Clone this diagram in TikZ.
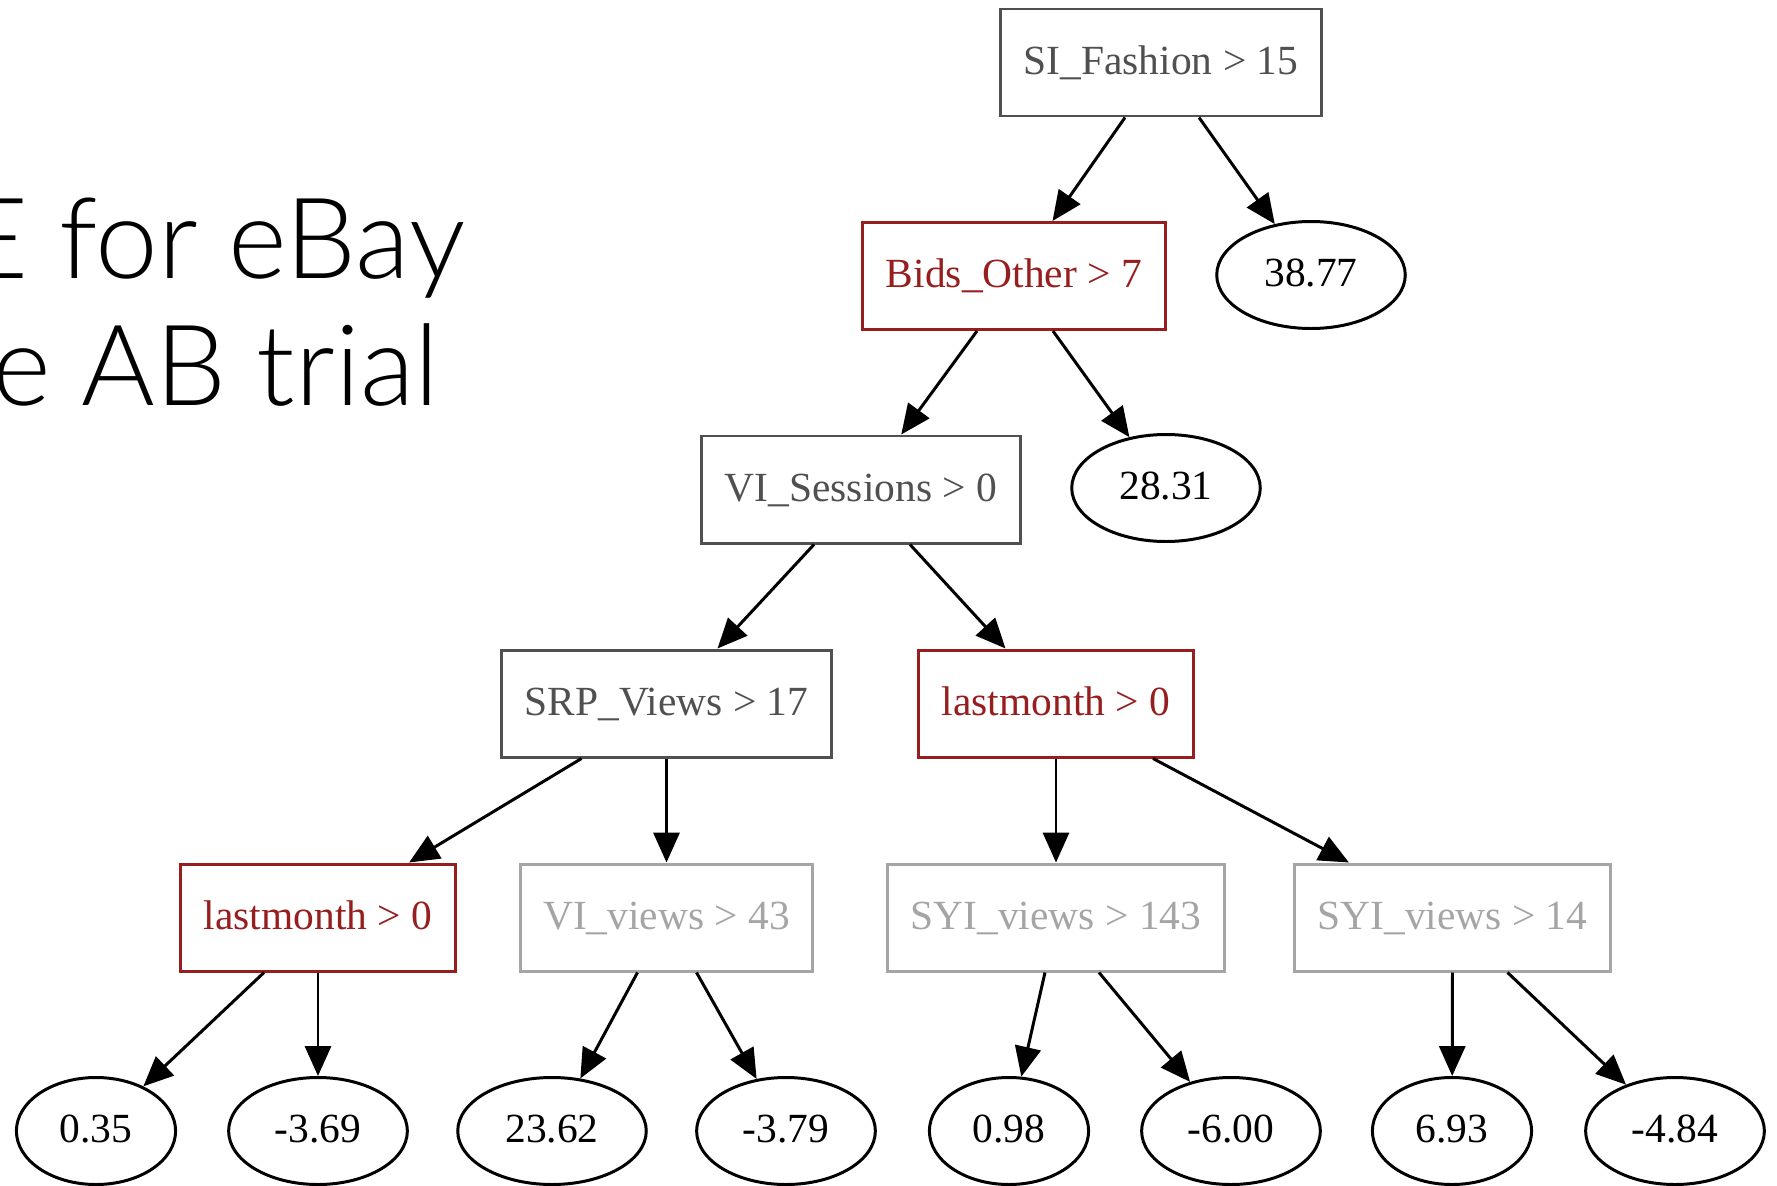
\documentclass[tikz,border=0pt]{standalone}
\usepackage{fontspec}
\setmainfont{Liberation Serif}
\newfontfamily\titlefont{Lato Light}
\usetikzlibrary{arrows.meta,shapes.geometric}
\definecolor{splitgray}{RGB}{80,80,80}
\definecolor{splitred}{RGB}{150,30,30}
\definecolor{splitlight}{RGB}{165,165,165}
\begin{document}
\begin{tikzpicture}[
    every node/.style={font=\fontsize{11.8}{14}\selectfont},
    split/.style={draw, rectangle, line width=0.85pt, inner xsep=0.23cm, inner ysep=0pt,
      minimum height=1.07cm, text height=8.85pt, text depth=2.25pt},
    leaf/.style={draw, ellipse, line width=0.85pt, inner xsep=0.2cm, inner ysep=0pt,
      minimum height=1.07cm, text height=8.85pt, text depth=2.25pt},
    edge/.style={line width=0.85pt, -{Triangle[length=8.5pt,width=7.4pt]}},
    titletext/.style={font=\titlefont\fontsize{32}{38}\selectfont, anchor=base east, inner sep=0pt}
  ]
        \useasboundingbox (0,0) rectangle (17.77,-11.86);

        % title, cut off at the left edge
        \node[titletext] (titleA) at (4.66,-2.78) {E for eBay};
        \node[titletext] (titleB) at (4.4,-4.05) {e AB trial};

        % splits
        \node[split, draw=splitgray, text=splitgray] (SIF) at (11.61,-0.625) {SI\_Fashion > 15};
        \node[split, draw=splitred, text=splitred] (BidsO) at (10.14,-2.76) {Bids\_Other > 7};
        \node[split, draw=splitgray, text=splitgray] (VIS) at (8.61,-4.895) {VI\_Sessions > 0};
        \node[split, draw=splitgray, text=splitgray] (SRP) at (6.665,-7.035) {SRP\_Views > 17};
        \node[split, draw=splitred, text=splitred] (LMa) at (10.56,-7.035) {lastmonth > 0};
        \node[split, draw=splitred, text=splitred] (LMb) at (3.18,-9.175) {lastmonth > 0};
        \node[split, draw=splitlight, text=splitlight] (VIv) at (6.665,-9.175) {VI\_views > 43};
        \node[split, draw=splitlight, text=splitlight] (SYIa) at (10.56,-9.175) {SYI\_views > 143};
        \node[split, draw=splitlight, text=splitlight] (SYIb) at (14.525,-9.175) {SYI\_views > 14};

        % leaves
        \node[leaf] (L3877) at (13.11,-2.75) {38.77};
        \node[leaf] (L2831) at (11.66,-4.88) {28.31};
        \node[leaf] (L035) at (0.96,-11.31) {0.35};
        \node[leaf] (L369) at (3.18,-11.31) {-3.69};
        \node[leaf] (L2362) at (5.52,-11.31) {23.62};
        \node[leaf] (L379) at (7.86,-11.31) {-3.79};
        \node[leaf] (L098) at (10.09,-11.31) {0.98};
        \node[leaf] (L600) at (12.31,-11.31) {-6.00};
        \node[leaf] (L693) at (14.52,-11.31) {6.93};
        \node[leaf] (L484) at (16.75,-11.31) {-4.84};

        % edges
        \draw[edge] ([xshift=-0.36cm]SIF.south) -- (BidsO);
        \draw[edge] ([xshift=0.38cm]SIF.south) -- (L3877);
        \draw[edge] ([xshift=-0.37cm]BidsO.south) -- (VIS);
        \draw[edge] ([xshift=0.39cm]BidsO.south) -- (L2831);
        \draw[edge] ([xshift=-0.47cm]VIS.south) -- (SRP);
        \draw[edge] ([xshift=0.49cm]VIS.south) -- (LMa);
        \draw[edge] ([xshift=-0.85cm]SRP.south) -- (LMb);
        \draw[edge] (SRP.south) -- (VIv);
        \draw[edge] (LMa.south) -- (SYIa);
        \draw[edge] ([xshift=0.97cm]LMa.south) -- (SYIb);
        \draw[edge] ([xshift=-0.54cm]LMb.south) -- (L035);
        \draw[edge] (LMb.south) -- (L369);
        \draw[edge] ([xshift=-0.29cm]VIv.south) -- (L2362);
        \draw[edge] ([xshift=0.3cm]VIv.south) -- (L379);
        \draw[edge] ([xshift=-0.11cm]SYIa.south) -- (L098);
        \draw[edge] ([xshift=0.43cm]SYIa.south) -- (L600);
        \draw[edge] (SYIb.south) -- (L693);
        \draw[edge] ([xshift=0.55cm]SYIb.south) -- (L484);
    \end{tikzpicture}
\end{document}
